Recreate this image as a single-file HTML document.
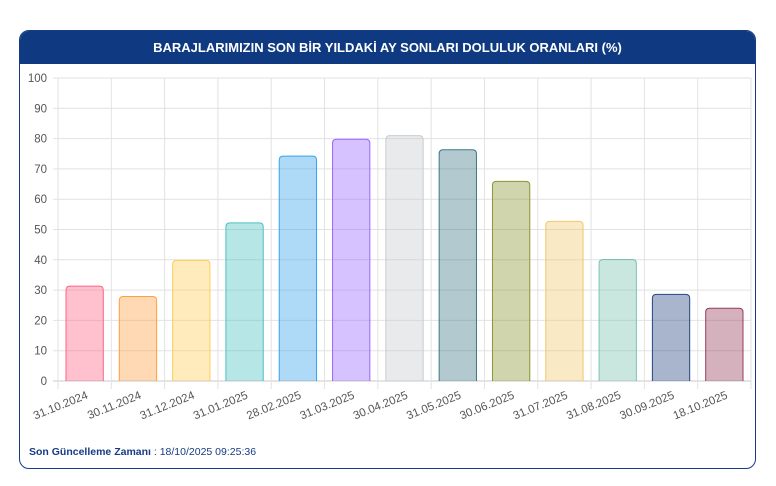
<!DOCTYPE html>
<html><head><meta charset="utf-8"><style>
body{margin:0;width:776px;height:486px;background:#fff;font-family:"Liberation Sans",sans-serif;overflow:hidden}
.card{position:absolute;left:19px;top:30px;width:735px;height:437px;border:1.5px solid #153c84;border-radius:10px;overflow:hidden}
.hd{height:33px;background:#0f3a82;color:#fff;font-weight:bold;font-size:13px;text-align:center;line-height:33px}
svg{position:absolute;left:0;top:0}
.ft{position:absolute;left:29px;top:446px;font-size:10.5px;color:#153c84}
</style></head><body>
<div class="card"><div class="hd">BARAJLARIMIZIN SON BİR YILDAKİ AY SONLARI DOLULUK ORANLARI (%)</div></div>
<svg width="776" height="486" xmlns="http://www.w3.org/2000/svg" font-family="Liberation Sans, sans-serif">
<g id="g"></g>
</svg>
<div class="ft"><b>Son Güncelleme Zamanı</b> : 18/10/2025 09:25:36</div>
<script>
const vals=[31.3,27.9,39.8,52.2,74.2,79.8,81,76.3,65.9,52.7,40.1,28.6,24.0];
const labs=["31.10.2024","30.11.2024","31.12.2024","31.01.2025","28.02.2025","31.03.2025","30.04.2025","31.05.2025","30.06.2025","31.07.2025","31.08.2025","30.09.2025","18.10.2025"];
const cols=[[255,99,132],[255,159,64],[255,205,86],[75,192,192],[54,162,235],[153,102,255],[201,203,207],[60,120,135],[140,150,50],[240,200,110],[120,195,175],[40,70,130],[150,60,90]];
let s="";const X0=58,X1=751,Y0=381,k=3.03,w=(X1-X0)/13;
for(let i=0;i<=10;i++){const y=Y0-i*10*k;s+=`<line x1="${X0-5}" x2="${X1}" y1="${y}" y2="${y}" stroke="${i==0?'#c8c8c8':'#e2e2e2'}"/>`;s+=`<text x="${X0-11}" y="${y+4}" text-anchor="end" font-size="11.5" fill="#555">${i*10}</text>`;}
for(let i=0;i<=13;i++){const x=X0+i*w;s+=`<line x1="${x}" x2="${x}" y1="78" y2="${Y0+8}" stroke="#e2e2e2"/>`;}
vals.forEach((v,i)=>{const x=X0+i*w+8,bw=w-16,y=Y0-v*k,c=cols[i];
s+=`<path d="M${x} ${Y0}V${y+4}Q${x} ${y} ${x+4} ${y}H${x+bw-4}Q${x+bw} ${y} ${x+bw} ${y+4}V${Y0}" fill="rgba(${c},0.4)" stroke="rgb(${c})" stroke-width="1"/>`;
const cx=X0+i*w+w/2+4;s+=`<text x="${cx}" y="398" transform="rotate(-22 ${cx} 398)" text-anchor="end" font-size="11.5" fill="#555">${labs[i]}</text>`;});
document.getElementById("g").innerHTML=s;
</script>
</body></html>
